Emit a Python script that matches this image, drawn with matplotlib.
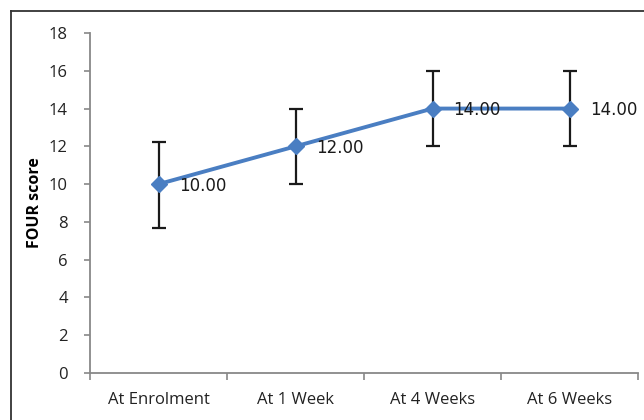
import matplotlib.pyplot as plt
from matplotlib.lines import Line2D
import numpy as np

categories = ['At Enrolment', 'At 1 Week', 'At 4 Weeks', 'At 6 Weeks']
scores = [10.0, 12.0, 14.0, 14.0]
err_low = [2.3, 2.0, 2.0, 2.0]
err_high = [2.25, 2.0, 2.0, 2.0]
y_ticks = [0, 2, 4, 6, 8, 10, 12, 14, 16, 18]

fig = plt.figure(figsize=(6.44, 4.2), dpi=100)
ax = fig.add_axes([0.1398, 0.1119, 0.8509, 0.8095])

# frame around the chart area (only top and left edges visible)
fig.add_artist(Line2D([11/644, 1.0], [1 - 11/420, 1 - 11/420], transform=fig.transFigure, color='#333333', lw=1.3))
fig.add_artist(Line2D([11/644, 11/644], [0, 1 - 11/420], transform=fig.transFigure, color='#333333', lw=1.3))

x = np.arange(len(categories))
ax.errorbar(x, scores, yerr=[err_low, err_high], fmt='none', ecolor='#1a1a1a',
            elinewidth=1.6, capsize=5, capthick=1.6, zorder=2)
ax.plot(x, scores, color='#4a7ec2', lw=2.8, marker='D', markersize=8, zorder=3)
for xi, v in zip(x, scores):
    ax.annotate(f'{v:.2f}', (xi, v), xytext=(15, -1), textcoords='offset points',
                va='center', ha='left', fontsize=12, family='DejaVu Sans', color='#1a1a1a')

ax.set_xlim(-0.5, len(categories) - 0.5)
ax.set_ylim(0, 18)
ax.set_yticks(y_ticks)
ax.set_yticklabels([str(t) for t in y_ticks], fontsize=12, family='Open Sans', color='#222222')
ax.set_xticks(x)
ax.set_xticklabels(categories, fontsize=12, family='Open Sans', color='#222222')
ax.set_xticks(np.arange(len(categories) + 1) - 0.5, minor=True)
ax.tick_params(axis='x', which='major', length=0, pad=14)
ax.tick_params(axis='x', which='minor', length=5, color='#888888', width=1.2)
ax.tick_params(axis='y', length=4, color='#888888', width=1.2, pad=12)
ax.set_ylabel('FOUR score', fontsize=11.5, fontweight='bold', family='Open Sans', labelpad=4)

for s in ['top', 'right']:
    ax.spines[s].set_visible(False)
for s in ['left', 'bottom']:
    ax.spines[s].set_color('#888888')
    ax.spines[s].set_linewidth(1.3)

fig.savefig('out.png', dpi=100)
